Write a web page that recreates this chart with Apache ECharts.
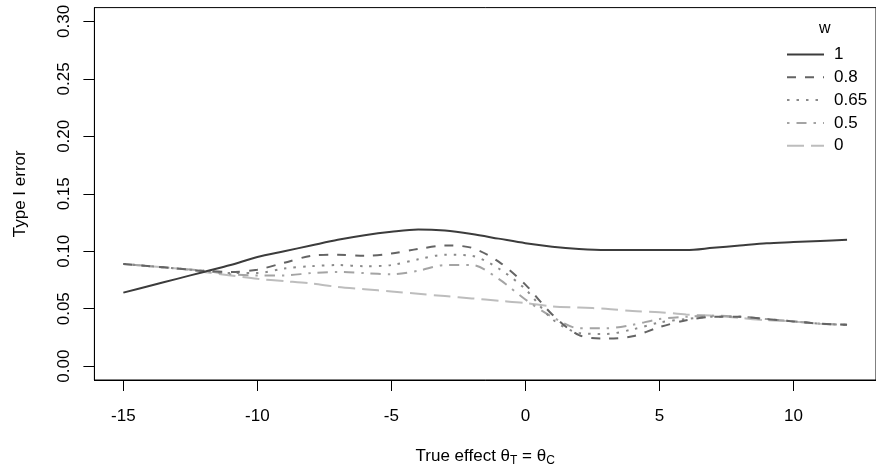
<!DOCTYPE html>
<html>
<head>
<meta charset="utf-8">
<script src="https://cdn.jsdelivr.net/npm/echarts@6/dist/echarts.min.js"></script>
<style>html,body{margin:0;padding:0;background:#fff}#c{width:876px;height:472px}</style>
</head>
<body>
<div id="c"></div>
<script>
var theta = [-15,-14,-13,-12,-11,-10,-9,-8,-7,-6,-5,-4,-3,-2,-1,0,1,2,3,4,5,6,7,8,9,10,11,12];
var w1   = [0.064,0.070,0.076,0.082,0.088,0.095,0.100,0.105,0.110,0.114,0.117,0.119,0.118,0.115,0.111,0.107,0.104,0.102,0.101,0.101,0.101,0.101,0.103,0.105,0.107,0.108,0.109,0.110];
var w08  = [0.089,0.087,0.085,0.083,0.082,0.084,0.090,0.096,0.097,0.096,0.098,0.102,0.105,0.103,0.091,0.071,0.045,0.027,0.024,0.026,0.034,0.040,0.043,0.043,0.041,0.039,0.037,0.036];
var w065 = [0.089,0.087,0.085,0.083,0.081,0.081,0.085,0.087,0.088,0.087,0.088,0.093,0.097,0.096,0.085,0.067,0.041,0.029,0.028,0.032,0.038,0.041,0.043,0.043,0.041,0.039,0.037,0.036];
var w05  = [0.089,0.087,0.085,0.083,0.080,0.079,0.079,0.081,0.082,0.081,0.080,0.083,0.088,0.088,0.076,0.058,0.043,0.033,0.033,0.036,0.041,0.043,0.044,0.043,0.041,0.039,0.037,0.036];
var w0   = [0.089,0.087,0.085,0.082,0.079,0.076,0.074,0.072,0.069,0.067,0.065,0.063,0.061,0.059,0.057,0.055,0.052,0.051,0.050,0.048,0.047,0.045,0.044,0.042,0.040,0.039,0.037,0.036];
var seriesNames = ['1','0.8','0.65','0.5','0'];
var xTicks = [-15,-10,-5,0,5,10];
var yTicks = [0,0.05,0.10,0.15,0.20,0.25,0.30];

function pairs(ys){ return theta.map(function(t,i){ return [t, ys[i]]; }); }
var styles = [
  {color:'#3c3c3c', type:'solid'},
  {color:'#646464', type:[9,9]},
  {color:'#8a8a8a', type:[2.5,7]},
  {color:'#a4a4a4', type:[2.5,7,10,7]},
  {color:'#bdbdbd', type:[17,7]}
];
var datas = [w1,w08,w065,w05,w0];
var FONT = 'Liberation Sans';
var chart = echarts.init(document.getElementById('c'), null, {renderer:'canvas'});
chart.setOption({
  animation:false,
  backgroundColor:'#fff',
  textStyle:{fontFamily:FONT},
  title:{text:'w', left:814, top:16, textStyle:{fontFamily:FONT, fontSize:16, fontWeight:'normal', color:'#000'}},
  legend:{
    orient:'vertical', left:781, top:41, itemWidth:37, itemHeight:14, itemGap:5.8,
    data:seriesNames,
    itemStyle:{color:'rgba(0,0,0,0)', borderWidth:0},
    textStyle:{fontFamily:FONT, fontSize:17, lineHeight:17, color:'#000', padding:[0,0,0,5]}
  },
  grid:{left:94.4, top:7.6, width:784.6, height:374.6, show:true, borderColor:'#000', borderWidth:1, backgroundColor:'transparent'},
  xAxis:{
    type:'value', min:-16.08, max:13.08,
    name:'True effect θ{s|T} = θ{s|C}', nameLocation:'middle', nameGap:65,
    nameTextStyle:{fontFamily:FONT, fontSize:17, color:'#000', rich:{s:{fontSize:12, fontFamily:FONT, color:'#000', padding:[10,0,0,0]}}},
    axisLine:{show:true, onZero:false, lineStyle:{color:'#000', width:1}},
    axisTick:{show:true, length:11, lineStyle:{color:'#000'}, customValues:xTicks},
    axisLabel:{show:true, customValues:xTicks, margin:28, fontFamily:FONT, fontSize:17, color:'#000'},
    splitLine:{show:false}
  },
  yAxis:{
    type:'value', min:-0.012, max:0.312,
    name:'Type I error', nameLocation:'middle', nameGap:66, nameRotate:90,
    nameTextStyle:{fontFamily:FONT, fontSize:17, color:'#000'},
    axisLine:{show:true, onZero:false, lineStyle:{color:'#000', width:1}},
    axisTick:{show:true, length:11, lineStyle:{color:'#000'}, customValues:yTicks},
    axisLabel:{show:true, customValues:yTicks, rotate:90, margin:22, fontFamily:FONT, fontSize:17, color:'#000',
      formatter:function(v){ return v.toFixed(2); }},
    splitLine:{show:false}
  },
  series: seriesNames.map(function(n,i){
    return {
      name:n, type:'line', data:pairs(datas[i]), symbol:'none', smooth:0.3,
      lineStyle:{color:styles[i].color, width:2, type:styles[i].type},
      itemStyle:{color:styles[i].color}, z: 10 - i
    };
  })
});
</script>
</body>
</html>
